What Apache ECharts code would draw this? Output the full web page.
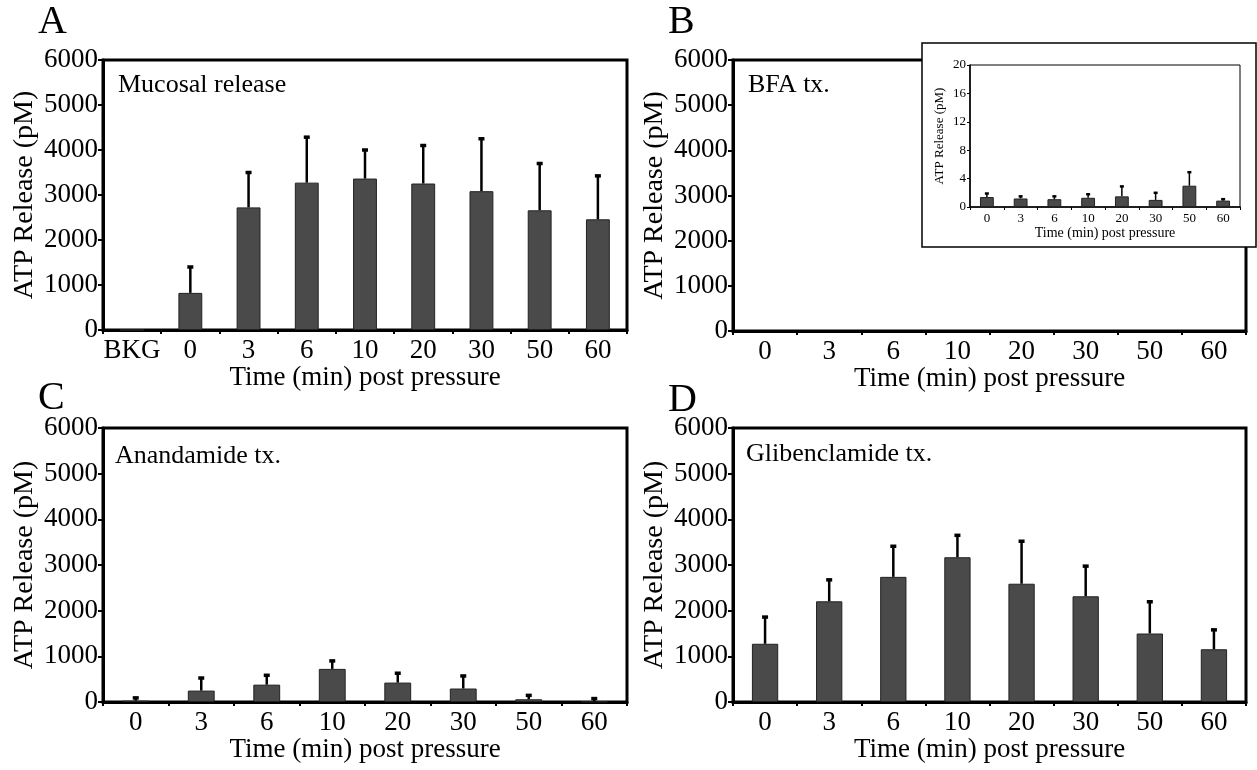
<!DOCTYPE html>
<html>
<head>
<meta charset="utf-8">
<script src="https://cdn.jsdelivr.net/npm/echarts@6/dist/echarts.min.js"></script>
<style>html,body{margin:0;padding:0;background:#fff;}#c{width:1257px;height:770px;}</style>
</head>
<body>
<div id="c"></div>
<script>
// ---------- data ----------
const catsA = ['BKG', '0', '3', '6', '10', '20', '30', '50', '60'];
const cats = ['0', '3', '6', '10', '20', '30', '50', '60'];
const meanA = [0, 825, 2725, 3275, 3365, 3255, 3085, 2660, 2460];
const errTopA = [null, 1400, 3500, 4285, 4000, 4100, 4250, 3700, 3425];
const meanBInset = [1.4, 1.2, 1.1, 1.3, 1.5, 1.0, 3.0, 0.9];
const errTopBInset = [1.9, 1.5, 1.5, 1.8, 2.9, 2.0, 4.9, 1.1];
const meanC = [30, 250, 380, 725, 425, 295, 60, 10];
const errTopC = [90, 525, 585, 900, 630, 570, 145, 75];
const meanD = [1275, 2205, 2740, 3170, 2590, 2315, 1500, 1155];
const errTopD = [1860, 2675, 3410, 3650, 3520, 2975, 2195, 1580];
const mainYMax = 6000, mainYStep = 1000;
const insetYMax = 20, insetYStep = 4;
const panelLabels = ['A', 'B', 'C', 'D'];
const panelTexts = ['Mucosal release', 'BFA tx.', 'Anandamide tx.', 'Glibenclamide tx.'];
const yName = 'ATP Release (pM)';
const xName = 'Time (min) post pressure';

// ---------- helpers ----------
const FONT = 'Liberation Serif';
const chart = echarts.init(document.getElementById('c'), null, {renderer: 'canvas'});
const plain = v => String(v);

function errData(mean, top) {
  const out = [];
  mean.forEach((m, i) => { if (top[i] != null) out.push([i, m, top[i]]); });
  return out;
}
function makeErrRender(lw, cap) {
  return function (params, api) {
    const i = api.value(0);
    const base = api.coord([i, api.value(1)]);
    const top = api.coord([i, api.value(2)]);
    return {
      type: 'group',
      children: [
        {type: 'line', shape: {x1: top[0], y1: base[1], x2: top[0], y2: top[1]}, style: {stroke: '#000', lineWidth: lw}},
        {type: 'line', shape: {x1: top[0] - cap, y1: top[1], x2: top[0] + cap, y2: top[1]}, style: {stroke: '#000', lineWidth: lw + 1}}
      ]
    };
  };
}

const mainGrids = [
  {left: 103, top: 60, width: 524, height: 270},
  {left: 733, top: 60, width: 513, height: 271},
  {left: 103, top: 428, width: 524, height: 274},
  {left: 733, top: 428, width: 513, height: 274}
];
const insetGrid = {left: 970, top: 65, width: 270, height: 142};

const grid = mainGrids.map(g => Object.assign({show: true, borderColor: '#000', borderWidth: 3, backgroundColor: 'transparent', z: 0}, g));
grid.push(Object.assign({show: true, borderColor: '#000', borderWidth: 1, z: 11}, insetGrid));

const xAxis = [], yAxis = [];
[catsA, cats, cats, cats].forEach((c, i) => {
  xAxis.push({
    type: 'category', gridIndex: i, data: c,
    axisLine: {lineStyle: {color: '#000', width: 3}},
    axisTick: {show: true, alignWithLabel: false, interval: 0, length: 4, lineStyle: {color: '#000', width: 2}},
    axisLabel: {color: '#000', fontFamily: FONT, fontSize: 27, margin: 7, interval: 0},
    name: xName, nameLocation: 'middle', nameGap: 32,
    nameTextStyle: {color: '#000', fontFamily: FONT, fontSize: 27}
  });
  yAxis.push({
    type: 'value', gridIndex: i, min: 0, max: mainYMax, interval: mainYStep,
    axisLine: {show: true, lineStyle: {color: '#000', width: 3}},
    axisTick: {show: true, length: 5, lineStyle: {color: '#000', width: 2}},
    splitLine: {show: false},
    axisLabel: {color: '#000', fontFamily: FONT, fontSize: 27, margin: 5, formatter: plain},
    name: yName, nameLocation: 'middle', nameGap: 64,
    nameTextStyle: {color: '#000', fontFamily: FONT, fontSize: 28}
  });
});
// inset axes
xAxis.push({
  type: 'category', gridIndex: 4, data: cats, z: 12,
  axisLine: {lineStyle: {color: '#000', width: 1.5}},
  axisTick: {show: true, alignWithLabel: false, interval: 0, length: 3, lineStyle: {color: '#000', width: 1}},
  axisLabel: {color: '#000', fontFamily: FONT, fontSize: 13, margin: 5, interval: 0},
  name: xName, nameLocation: 'middle', nameGap: 18,
  nameTextStyle: {color: '#000', fontFamily: FONT, fontSize: 14}
});
yAxis.push({
  type: 'value', gridIndex: 4, min: 0, max: insetYMax, interval: insetYStep, z: 12,
  axisLine: {show: true, lineStyle: {color: '#000', width: 1.5}},
  axisTick: {show: true, length: 3, lineStyle: {color: '#000', width: 1}},
  splitLine: {show: false},
  axisLabel: {color: '#000', fontFamily: FONT, fontSize: 13, margin: 4, formatter: plain},
  name: yName, nameLocation: 'middle', nameGap: 24,
  nameTextStyle: {color: '#000', fontFamily: FONT, fontSize: 13}
});

const barStyle = {color: '#4a4a4a', borderColor: '#222', borderWidth: 1};
const series = [];
function addPanel(idx, mean, top, barWidth, lw, cap, z) {
  series.push({
    type: 'bar', xAxisIndex: idx, yAxisIndex: idx, data: mean, barWidth: barWidth,
    itemStyle: barStyle, z: z, silent: true
  });
  series.push({
    type: 'custom', xAxisIndex: idx, yAxisIndex: idx, data: errData(mean, top),
    renderItem: makeErrRender(lw, cap), z: z + 1, silent: true
  });
}
addPanel(0, meanA, errTopA, '41%', 2.5, 3, 2);
addPanel(2, meanC, errTopC, '41%', 2.5, 3, 2);
addPanel(3, meanD, errTopD, '41%', 2.5, 3, 2);
addPanel(4, meanBInset, errTopBInset, '41%', 1.5, 2, 13);

// ---------- text & inset frame ----------
const labelPos = [[38, 22], [668, 22], [38, 398], [668, 400]];
const textPos = [[118, 85], [748, 85], [115, 456], [746, 454]];
const graphic = [];
panelLabels.forEach((l, i) => {
  graphic.push({type: 'text', z: 20,
    style: {text: l, x: labelPos[i][0], y: labelPos[i][1], fill: '#000', font: '40px "' + FONT + '"', verticalAlign: 'middle', align: 'left'}});
});
panelTexts.forEach((t, i) => {
  graphic.push({type: 'text', z: 20,
    style: {text: t, x: textPos[i][0], y: textPos[i][1], fill: '#000', font: '26px "' + FONT + '"', verticalAlign: 'middle', align: 'left'}});
});
graphic.push({type: 'rect', z: 10, shape: {x: 922, y: 43, width: 334, height: 204},
  style: {fill: '#fff', stroke: '#000', lineWidth: 1.5}});

chart.setOption({
  animation: false,
  backgroundColor: '#fff',
  grid: grid,
  xAxis: xAxis,
  yAxis: yAxis,
  series: series,
  graphic: graphic
});
</script>
</body>
</html>
